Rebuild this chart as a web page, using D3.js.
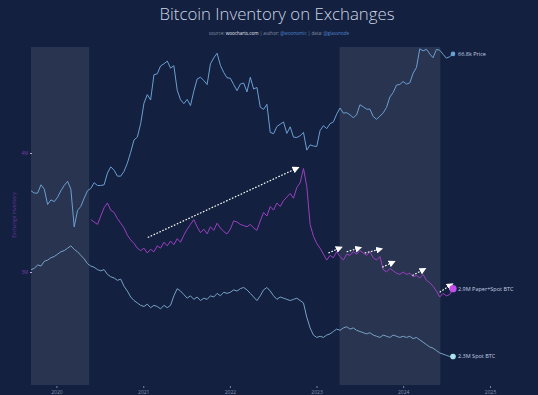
<!DOCTYPE html>
<html>
<head>
<meta charset="utf-8">
<script src="https://cdn.jsdelivr.net/npm/d3@7"></script>
<style>
body { margin: 0; background: #13203f; }
svg { display: block; font-family: "Open Sans", sans-serif; }
</style>
</head>
<body>
<div id="chart"></div>
<script>
// one sample every 14 days, starting here
var startDate = "2019-09-16";

// BTC price, USD thousands
var price = [8.6, 8.3, 8.3, 9.4, 8.8, 7.0, 7.5, 7.3,
  7.8, 8.6, 9.3, 9.9, 8.8, 5.0, 6.4, 6.8, 7.7, 8.6, 8.9, 9.7, 9.3, 9.3, 9.4, 11.2, 12.3, 11.7, 10.7, 10.7, 11.5, 13.0, 15.3, 18.4, 19.2, 23.5,
  31.9, 36.3, 33.5, 48.9, 49.6, 55.8, 57.6, 60.0, 54.0, 56.0, 38.8, 33.6, 31.7, 33.8, 30.8, 38.2, 45.9, 47.1, 44.9, 42.2, 57.5, 63.0, 67.5, 56.3, 50.6, 46.7,
  46.4, 42.2, 38.5, 42.5, 43.2, 37.8, 47.1, 39.5, 40.4, 30.1, 29.1, 31.4, 20.6, 20.2, 22.5, 23.3, 24.1, 20.3, 22.4, 19.2, 19.1, 19.6, 20.6, 15.8, 17.1, 16.8,
  16.7, 21.2, 22.8, 21.8, 23.5, 24.1, 27.1, 29.7, 27.5, 27.7, 26.8, 25.7, 26.8, 31.2, 30.2, 29.2, 29.2, 26.1, 25.1, 26.3, 27.6, 30.0, 35.0, 37.5, 41.9, 42.3,
  44.2, 42.5, 43.3, 50.0, 54.5, 72.1, 69.9, 71.6, 66.8, 63.1, 71.4, 70.6, 66.5, 62.7, 64.1, 66.8];

// spot BTC on exchanges, millions
var spotBtc = [3.02, 3.03, 3.06, 3.05, 3.09, 3.10, 3.12, 3.13,
  3.15, 3.17, 3.18, 3.20, 3.22, 3.19, 3.17, 3.14, 3.11, 3.07, 3.05, 3.04, 3.02, 3.01, 3.02, 2.98, 2.96, 2.95, 2.93, 2.94, 2.88, 2.84, 2.79, 2.76, 2.74, 2.72,
  2.71, 2.73, 2.70, 2.72, 2.71, 2.69, 2.72, 2.70, 2.72, 2.80, 2.86, 2.84, 2.81, 2.78, 2.80, 2.77, 2.79, 2.76, 2.78, 2.77, 2.80, 2.79, 2.82, 2.80, 2.83, 2.82,
  2.83, 2.85, 2.84, 2.86, 2.87, 2.85, 2.82, 2.79, 2.76, 2.80, 2.85, 2.87, 2.84, 2.80, 2.77, 2.79, 2.78, 2.77, 2.76, 2.77, 2.78, 2.76, 2.74, 2.62, 2.53, 2.47,
  2.45, 2.46, 2.45, 2.47, 2.48, 2.50, 2.52, 2.51, 2.53, 2.54, 2.52, 2.53, 2.51, 2.50, 2.49, 2.48, 2.49, 2.47, 2.46, 2.45, 2.47, 2.46, 2.45, 2.47, 2.46, 2.45,
  2.46, 2.45, 2.46, 2.44, 2.45, 2.43, 2.41, 2.39, 2.37, 2.36, 2.34, 2.32, 2.31, 2.30, 2.29, 2.29];

// paper + spot BTC, millions (no data before May 2020)
var paperSpotBtc = [null, null, null, null, null, null, null, null,
  null, null, null, null, null, null, null, null, null, null, 3.44, 3.42, 3.40, 3.47, 3.54, 3.58, 3.52, 3.50, 3.45, 3.41, 3.37, 3.31, 3.27, 3.24, 3.20, 3.18,
  3.20, 3.16, 3.19, 3.17, 3.22, 3.20, 3.25, 3.22, 3.26, 3.23, 3.28, 3.25, 3.31, 3.36, 3.40, 3.44, 3.38, 3.33, 3.36, 3.32, 3.38, 3.35, 3.41, 3.37, 3.34, 3.32,
  3.36, 3.43, 3.42, 3.40, 3.39, 3.38, 3.40, 3.37, 3.35, 3.43, 3.50, 3.47, 3.55, 3.52, 3.58, 3.55, 3.60, 3.63, 3.66, 3.62, 3.71, 3.75, 3.87, 3.72, 3.40, 3.30,
  3.24, 3.20, 3.15, 3.10, 3.14, 3.12, 3.17, 3.13, 3.10, 3.15, 3.14, 3.17, 3.15, 3.18, 3.16, 3.14, 3.17, 3.12, 3.10, 3.13, 3.02, 3.00, 3.03, 3.01, 2.99, 2.98,
  3.00, 2.98, 2.99, 2.96, 2.97, 2.95, 2.98, 2.93, 2.91, 2.88, 2.84, 2.79, 2.82, 2.80, 2.81, 2.86];

var yearTicks = ["2020", "2021", "2022", "2023", "2024", "2025"];
var inventoryTicks = [3, 4];
var inventoryTickLabels = ["3M", "4M"];

var shadedPeriods = [["2019-09-16", "2020-05-18"], ["2023-04-08", "2024-06-06"]];

// dotted trend arrows on the paper+spot line: [from date, from M, to date, to M]
var trendArrows = [
  ["2021-01-20", 3.29, "2022-10-08", 3.87],
  ["2023-02-20", 3.16, "2023-04-08", 3.20],
  ["2023-05-08", 3.17, "2023-06-28", 3.20],
  ["2023-07-23", 3.16, "2023-09-24", 3.19],
  ["2023-10-05", 3.04, "2023-11-17", 3.08],
  ["2024-02-09", 2.97, "2024-03-26", 3.02],
  ["2024-06-03", 2.83, "2024-07-19", 2.89]
];

var width = 538, height = 395;
var parse = d3.utcParse("%Y-%m-%d");
var t0 = parse(startDate);
var dates = price.map(function(d, i) { return d3.utcDay.offset(t0, 14 * i); });

var svg = d3.select("#chart").append("svg")
  .attr("width", width)
  .attr("height", height);

svg.append("rect")
  .attr("width", width)
  .attr("height", height)
  .attr("fill", "#13203f");

var x = d3.scaleUtc()
  .domain([dates[0], dates[dates.length - 1]])
  .range([31, 453]);

var yPrice = d3.scaleLog()
  .domain([3000, 100000])
  .range([261, 27]);

var yInv = d3.scaleLinear()
  .domain([3, 4])
  .range([272, 153]);

// shaded periods
svg.append("g").selectAll("rect")
  .data(shadedPeriods)
  .enter().append("rect")
  .attr("x", function(d) { return x(parse(d[0])); })
  .attr("width", function(d) { return x(parse(d[1])) - x(parse(d[0])); })
  .attr("y", 47)
  .attr("height", 338)
  .attr("fill", "#ffffff")
  .attr("fill-opacity", 0.09);

// title
svg.append("text")
  .attr("x", 277)
  .attr("y", 20)
  .attr("text-anchor", "middle")
  .attr("font-size", 16.8)
  .attr("font-weight", 300)
  .attr("fill", "#cdd5e3")
  .text("Bitcoin Inventory on Exchanges");

var sub = svg.append("text")
  .attr("x", 279)
  .attr("y", 35)
  .attr("text-anchor", "middle")
  .attr("font-size", 4.6);
[["source: ", "#8791a8"], ["woocharts.com", "#e4e8f0"], [" | author: ", "#8791a8"], ["@woonomic", "#4f86cf"],
 [" | data: ", "#8791a8"], ["@glassnode", "#4f86cf"]].forEach(function(p) {
  sub.append("tspan").attr("fill", p[1]).text(p[0]);
});

// x axis
var xAxis = d3.axisBottom(x)
  .tickValues(yearTicks.map(function(y) { return parse(y + "-01-01"); }))
  .tickFormat(d3.utcFormat("%Y"))
  .tickSize(2)
  .tickPadding(2);

var xg = svg.append("g")
  .attr("transform", "translate(0,386)")
  .call(xAxis);
xg.select(".domain").remove();
xg.selectAll("line").attr("stroke", "#7a86a3");
xg.selectAll("text")
  .attr("font-size", 5)
  .attr("fill", "#8a95b0")
  .attr("font-family", "Open Sans, sans-serif");

// left axis
var yAxis = d3.axisLeft(yInv)
  .tickValues(inventoryTicks)
  .tickFormat(function(d, i) { return inventoryTickLabels[i]; })
  .tickSize(2)
  .tickPadding(2);

var yg = svg.append("g")
  .attr("transform", "translate(32,0)")
  .call(yAxis);
yg.select(".domain").remove();
yg.selectAll("line").attr("stroke", "#b9a6dc");
yg.selectAll("text")
  .attr("font-size", 4.5)
  .attr("fill", "#7a3fa8")
  .attr("font-family", "Open Sans, sans-serif");

svg.append("text")
  .attr("transform", "translate(16,215) rotate(-90)")
  .attr("text-anchor", "middle")
  .attr("font-size", 5)
  .attr("fill", "#6a3596")
  .text("Exchange Inventory");

// lines
function drawSeries(values, yScale, color, mult) {
  var line = d3.line()
    .defined(function(d) { return d != null; })
    .x(function(d, i) { return x(dates[i]); })
    .y(function(d) { return yScale(d * mult); });

  svg.append("path")
    .attr("d", line(values))
    .attr("fill", "none")
    .attr("stroke", color)
    .attr("stroke-width", 1)
    .attr("stroke-linejoin", "round");
}

drawSeries(price, yPrice, "#6b9fd3", 1000);
drawSeries(spotBtc, yInv, "#78a2c6", 1);
drawSeries(paperSpotBtc, yInv, "#9c3fc2", 1);

// trend arrows
svg.append("defs").append("marker")
  .attr("id", "head")
  .attr("viewBox", "0 0 10 10")
  .attr("refX", 5)
  .attr("refY", 5)
  .attr("markerWidth", 7)
  .attr("markerHeight", 7)
  .attr("markerUnits", "userSpaceOnUse")
  .attr("orient", "auto")
  .append("path")
  .attr("d", "M0,0 L10,5 L0,10 z")
  .attr("fill", "#ffffff");

svg.append("g").selectAll("line")
  .data(trendArrows)
  .enter().append("line")
  .attr("x1", function(d) { return x(parse(d[0])); })
  .attr("y1", function(d) { return yInv(d[1]); })
  .attr("x2", function(d) { return x(parse(d[2])); })
  .attr("y2", function(d) { return yInv(d[3]); })
  .attr("stroke", "#ffffff")
  .attr("stroke-width", 1.2)
  .attr("stroke-dasharray", "1.6,1.6")
  .attr("marker-end", "url(#head)");

// end markers and labels
var last = dates.length - 1;
var ends = [
  { y: yPrice(price[last] * 1000), r: 2.3, color: "#6b9fd3", label: d3.format(".1f")(price[last]) + "k Price" },
  { y: yInv(paperSpotBtc[last]), r: 3.6, color: "#c24fea", label: d3.format(".1f")(paperSpotBtc[last]) + "M Paper+Spot BTC" },
  { y: yInv(spotBtc[last]), r: 2.8, color: "#a9e3ec", label: d3.format(".1f")(spotBtc[last]) + "M Spot BTC" }
];

var endG = svg.append("g").selectAll("g")
  .data(ends)
  .enter().append("g")
  .attr("transform", function(d) { return "translate(" + x(dates[last]) + "," + d.y + ")"; });

endG.append("circle")
  .attr("r", function(d) { return d.r; })
  .attr("fill", function(d) { return d.color; });

endG.append("text")
  .attr("x", 5)
  .attr("dy", "0.35em")
  .attr("font-size", 5.5)
  .attr("fill", "#c3cde0")
  .text(function(d) { return d.label; });
</script>
</body>
</html>
